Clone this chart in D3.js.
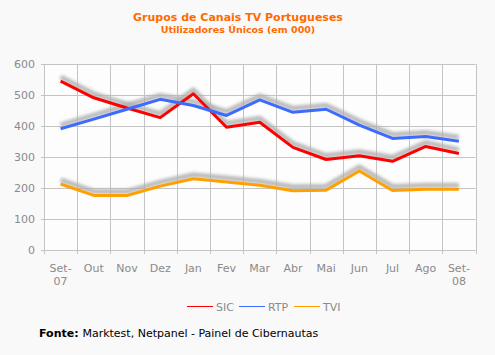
<!DOCTYPE html>
<html><head><meta charset="utf-8">
<script src="https://cdn.jsdelivr.net/npm/d3@7"></script>
<style>
html,body{margin:0;padding:0;background:#f9f9f9;}
svg{display:block;font-family:"DejaVu Sans",Verdana,sans-serif;}
</style></head>
<body>
<svg id="c" width="495" height="355"></svg>
<script>
const months = ["Set-\n07","Out","Nov","Dez","Jan","Fev","Mar","Abr","Mai","Jun","Jul","Ago","Set-\n08"];
const sic = [545,491,458,427,504,396,412,331,292,304,286,334,311];
const rtp = [391,422,454,486,466,434,484,444,454,403,360,366,351];
const tvi = [213,176,176,206,230,219,209,191,193,255,192,196,196];
const yTicks = [0,100,200,300,400,500,600];
const seriesNames = ["SIC","RTP","TVI"];
const seriesColors = ["#ff0000","#3d6bff","#ffa000"];
const seriesData = [sic, rtp, tvi];

const svg = d3.select("#c");
const L = 44, R = 475.5, T = 64, B = 250;

const defs = svg.append("defs");
defs.append("filter").attr("id","blur").attr("x","-10%").attr("y","-50%").attr("width","120%").attr("height","200%")
  .append("feGaussianBlur").attr("stdDeviation",1.6);

svg.append("rect").attr("x",L).attr("y",T).attr("width",R-L).attr("height",B-T).attr("fill","#fdfdfd");

const x = d3.scaleBand().domain(d3.range(months.length)).range([L,R]);
const y = d3.scaleLinear().domain([0,600]).range([B,T]);

// gridlines
svg.append("g").selectAll("line").data(yTicks).join("line")
  .attr("x1",L-3).attr("x2",R).attr("y1",d=>y(d)+0.5).attr("y2",d=>y(d)+0.5)
  .attr("stroke","#c4c4c4").attr("stroke-width",1);
const vx = d3.range(months.length+1).map(i => i<months.length ? x(i) : R);
svg.append("g").selectAll("line").data(vx).join("line")
  .attr("x1",d=>Math.round(d)+0.5).attr("x2",d=>Math.round(d)+0.5).attr("y1",T).attr("y2",B+4)
  .attr("stroke","#c4c4c4").attr("stroke-width",1);

// y labels
svg.append("g").selectAll("text").data(yTicks).join("text")
  .attr("x",35).attr("y",d=>y(d)+4).attr("text-anchor","end")
  .attr("font-size",11).attr("fill","#8a8a8a").text(d=>d);

// x labels
const xl = svg.append("g").selectAll("text").data(months).join("text")
  .attr("x",(d,i)=>x(i)+x.bandwidth()/2).attr("y",272).attr("text-anchor","middle")
  .attr("font-size",11).attr("fill","#8a8a8a");
xl.each(function(d){
  const parts = d.split("\n");
  const t = d3.select(this);
  parts.forEach((p,j)=>t.append("tspan").attr("x",t.attr("x")).attr("dy",j?13:0).text(p));
});

const line = d3.line().x((d,i)=>x(i)+x.bandwidth()/2).y(d=>y(d));

// shadows
seriesData.forEach(s=>{
  svg.append("path").datum(s).attr("d",line).attr("fill","none")
    .attr("stroke","#b0b0b0").attr("stroke-width",5).attr("stroke-linejoin","round")
    .attr("transform","translate(0,-4)").attr("filter","url(#blur)").attr("opacity",0.85);
});
seriesData.forEach((s,k)=>{
  svg.append("path").datum(s).attr("d",line).attr("fill","none")
    .attr("stroke",seriesColors[k]).attr("stroke-width",3).attr("stroke-linejoin","round");
});

// legend
const legX = [187,239,294];
seriesNames.forEach((n,k)=>{
  svg.append("line").attr("x1",legX[k]).attr("x2",legX[k]+26).attr("y1",306.5).attr("y2",306.5)
    .attr("stroke",seriesColors[k]).attr("stroke-width",1);
  svg.append("text").attr("x",legX[k]+29).attr("y",310.5).attr("font-size",11).attr("fill","#8a8a8a").text(n);
});

// titles
svg.append("text").attr("x",238).attr("y",21).attr("text-anchor","middle")
  .attr("font-size",11).attr("font-weight","bold").attr("fill","#ff6a00").text("Grupos de Canais TV Portugueses");
svg.append("text").attr("x",238).attr("y",33).attr("text-anchor","middle")
  .attr("font-size",9.5).attr("font-weight","bold").attr("fill","#ff6a00").text("Utilizadores  Únicos  (em 000)");

// source
const f = svg.append("text").attr("x",39).attr("y",337).attr("font-size",11).attr("fill","#000");
f.append("tspan").attr("font-weight","bold").text("Fonte: ");
f.append("tspan").text("Marktest, Netpanel - Painel de Cibernautas");
</script>
</body></html>
